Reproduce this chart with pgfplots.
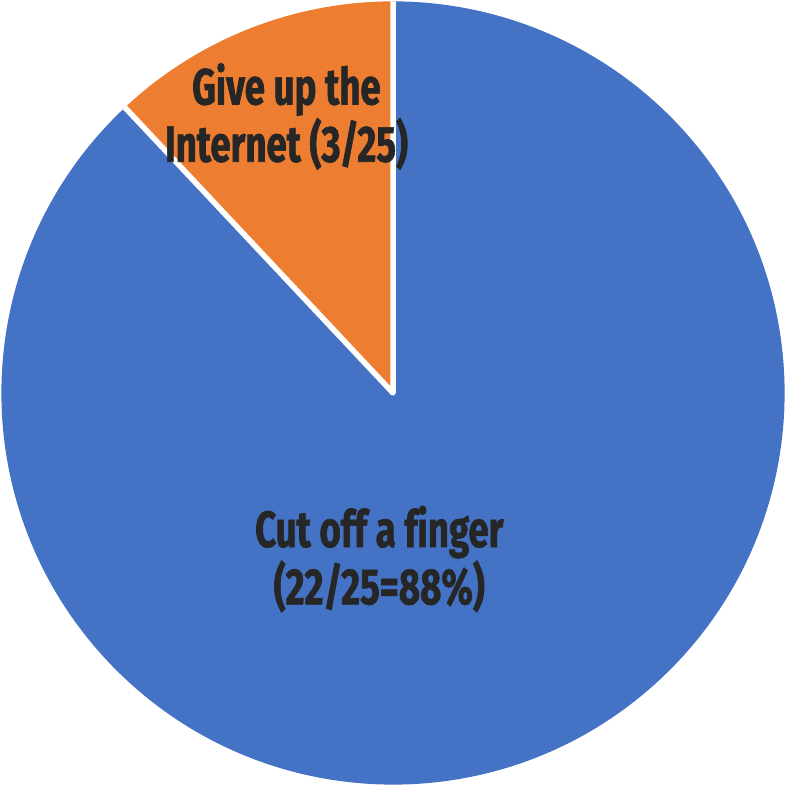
\documentclass[border=0pt]{standalone}
\usepackage{pgfplots}
\pgfplotsset{compat=1.18}
\usepackage{pgfplotstable}
\usepackage{fontspec}
\setmainfont{Fira Sans}[FakeStretch=0.72, Ligatures=NoCommon, BoldFeatures={FakeBold=1.2}]
\definecolor{pieblue}{HTML}{4472C4}
\definecolor{pieorange}{HTML}{ED7D31}
\definecolor{labelgray}{HTML}{262626}

% votes out of 25
\pgfplotstableread{
label votes
finger 22
internet 3
}\piedata

\begin{document}
\begin{tikzpicture}
\pgfplotstablegetelem{0}{votes}\of\piedata \let\vfinger\pgfplotsretval
\pgfplotstablegetelem{1}{votes}\of\piedata \let\vnet\pgfplotsretval
\pgfmathsetmacro{\total}{\vfinger+\vnet}
\pgfmathsetmacro{\anet}{90+360*\vnet/\total}
\begin{axis}[
  name=pie,
  x=5cm, y=5cm,
  xmin=-1, xmax=1, ymin=-1, ymax=1,
  hide axis, clip=false,
]
  % orange slice from 12 o'clock counterclockwise, blue takes the rest
  \fill[pieorange] (axis cs:0,0) -- (axis cs:0,1) arc[start angle=90, end angle=\anet, radius=5cm] -- cycle;
  \fill[pieblue] (axis cs:0,0) -- (axis cs:{cos(\anet)},{sin(\anet)}) arc[start angle=\anet, end angle=450, radius=5cm] -- cycle;
  \draw[white, line width=2pt, line join=round] (axis cs:{cos(\anet)},{sin(\anet)}) -- (axis cs:0,0) -- (axis cs:0,1);
  \node[text=labelgray, font=\fontsize{18.5}{20.8}\selectfont\bfseries, align=center]
    at (axis cs:-0.272,0.706) {Give up the\\Internet (3/25)};
  \node[text=labelgray, font=\fontsize{18.5}{20.8}\selectfont\bfseries, align=center]
    at (axis cs:-0.035,-0.424) {Cut off a finger\\(22/25=88\%)};
\end{axis}
% arcs put their control points in the bounding box; keep only the disc
\pgfresetboundingbox
\path ([shift={(-0.5pt,-0.5pt)}]pie.south west) rectangle ([shift={(0.5pt,0.5pt)}]pie.north east);
\end{tikzpicture}
\end{document}
